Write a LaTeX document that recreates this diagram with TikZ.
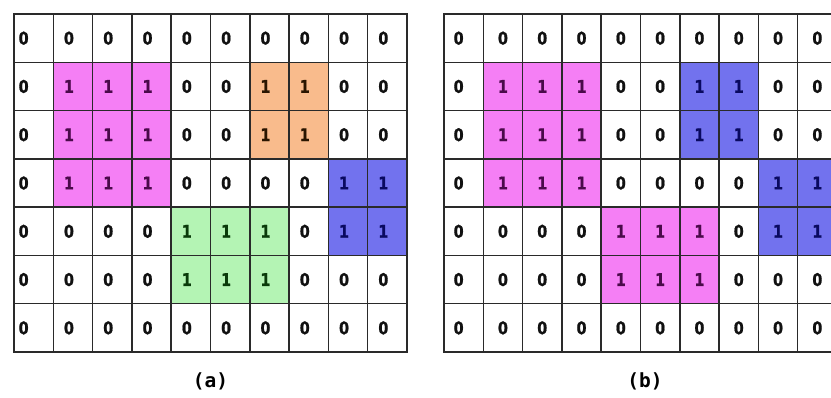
\documentclass[tikz,border=0pt]{standalone}
\usepackage{fontspec}
\newfontfamily\cellfont[FakeStretch=0.82,BoldFeatures={FakeBold=1}]{DejaVu Sans}
\newfontfamily\labfont{DejaVu Sans Mono}
\definecolor{gridline}{HTML}{2A2A2A}
\definecolor{magfill}{HTML}{F57FF5}
\definecolor{magtext}{HTML}{4A0A4A}
\definecolor{orafill}{HTML}{F9BB8C}
\definecolor{oratext}{HTML}{2A1500}
\definecolor{grefill}{HTML}{B4F4B4}
\definecolor{gretext}{HTML}{0A3A0A}
\definecolor{blufill}{HTML}{7272EE}
\definecolor{blutext}{HTML}{0A0A60}
\definecolor{zerotext}{HTML}{111111}
\tikzset{
  gcell/.style={draw=gridline, line width=1.5pt, minimum width=39.3pt, minimum height=48.29pt,
    inner sep=0pt, font=\cellfont\bfseries\fontsize{17.5}{17.5}\selectfont},
  gcellw/.style={fill=white, text=zerotext},
  gcellm/.style={fill=magfill, text=magtext},
  gcello/.style={fill=orafill, text=oratext},
  gcellg/.style={fill=grefill, text=gretext},
  gcellb/.style={fill=blufill, text=blutext},
  lab/.style={font=\labfont\bfseries\fontsize{19.5}{19.5}\selectfont, text=black}
}
\begin{document}
\begin{tikzpicture}[x=1pt,y=-1pt]
\useasboundingbox (0,0) rectangle (831,397);
\clip (0,0) rectangle (831,397);
% grid (a)
\foreach \row [count=\r] in {
  {0/w,0/w,0/w,0/w,0/w,0/w,0/w,0/w,0/w,0/w},
  {0/w,1/m,1/m,1/m,0/w,0/w,1/o,1/o,0/w,0/w},
  {0/w,1/m,1/m,1/m,0/w,0/w,1/o,1/o,0/w,0/w},
  {0/w,1/m,1/m,1/m,0/w,0/w,0/w,0/w,1/b,1/b},
  {0/w,0/w,0/w,0/w,1/g,1/g,1/g,0/w,1/b,1/b},
  {0/w,0/w,0/w,0/w,1/g,1/g,1/g,0/w,0/w,0/w},
  {0/w,0/w,0/w,0/w,0/w,0/w,0/w,0/w,0/w,0/w}} {
  \foreach \v/\k [count=\c] in \row {
    \pgfmathsetmacro\sh{2*(\c==1 ? -10 : -4)}
    \node[gcell, gcell\k] (a-\r-\c) at ({14+(\c-0.5)*39.3}, {14+(\r-0.5)*48.29}) {\hspace*{\sh pt}\raisebox{-2.5pt}{\v}};
  }
}
% grid (b)
\foreach \row [count=\r] in {
  {0/w,0/w,0/w,0/w,0/w,0/w,0/w,0/w,0/w,0/w},
  {0/w,1/m,1/m,1/m,0/w,0/w,1/b,1/b,0/w,0/w},
  {0/w,1/m,1/m,1/m,0/w,0/w,1/b,1/b,0/w,0/w},
  {0/w,1/m,1/m,1/m,0/w,0/w,0/w,0/w,1/b,1/b},
  {0/w,0/w,0/w,0/w,1/m,1/m,1/m,0/w,1/b,1/b},
  {0/w,0/w,0/w,0/w,1/m,1/m,1/m,0/w,0/w,0/w},
  {0/w,0/w,0/w,0/w,0/w,0/w,0/w,0/w,0/w,0/w}} {
  \foreach \v/\k [count=\c] in \row {
    \pgfmathsetmacro\sh{2*(\c==1 ? -5 : 0)}
    \node[gcell, gcell\k] (b-\r-\c) at ({444+(\c-0.5)*39.3}, {14+(\r-0.5)*48.29}) {\hspace*{\sh pt}\raisebox{-2.5pt}{\v}};
  }
}
\node[lab] (la) at (210.5,381) {(a)};
\node[lab] (lb) at (645,381) {(b)};
\end{tikzpicture}
\end{document}
